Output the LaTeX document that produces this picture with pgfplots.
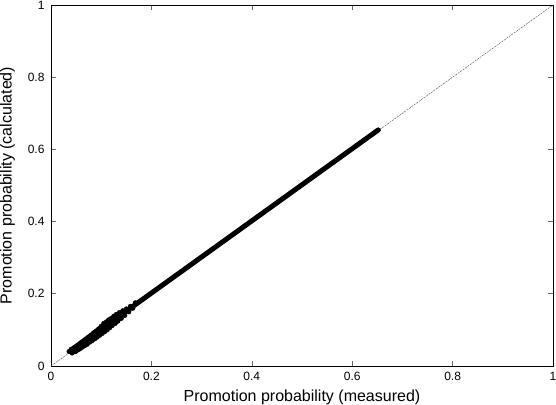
\documentclass[border=0pt]{standalone}
\usepackage{fontspec}
\setmainfont{Liberation Sans}
\usepackage{pgfplots}
\pgfplotsset{compat=1.18}
\begin{document}
\begin{tikzpicture}
\begin{axis}[
    width=502pt, height=361pt, scale only axis,
    xmin=0, xmax=1, ymin=0, ymax=1,
    xtick={0,0.2,0.4,0.6,0.8,1}, ytick={0,0.2,0.4,0.6,0.8,1},
    xticklabels={0,0.2,0.4,0.6,0.8,1}, yticklabels={0,0.2,0.4,0.6,0.8,1},
    tick align=inside, major tick length=5pt,
    tick style={black!60, line width=0.6pt},
    axis line style={black, line width=0.9pt},
    ticklabel style={font=\fontsize{12}{12}\selectfont},
    xticklabel style={yshift=-3pt},
    yticklabel style={xshift=-3pt},
    xlabel={Promotion probability (measured)},
    ylabel={Promotion probability (calculated)},
    label style={font=\fontsize{16}{16}\selectfont},
    xlabel style={yshift=-2pt},
    ylabel style={yshift=6pt},
]
% y = x reference
\addplot[black!70, line width=0.4pt, dash pattern=on 2pt off 1pt] coordinates {(0,0) (1,1)};
% dense band of points
\addplot[black, line width=5pt, line cap=round] coordinates {(0.040,0.042) (0.652,0.654)};
\addplot[black, line width=8.5pt, line cap=round] coordinates {(0.046,0.044) (0.135,0.136)};
% spread at low probabilities
\addplot[only marks, mark=*, mark size=2.3pt, black] coordinates {
(0.036,0.040) (0.040,0.046) (0.042,0.036) (0.045,0.050) (0.048,0.040)
(0.050,0.054) (0.052,0.044) (0.055,0.058) (0.057,0.047) (0.060,0.062)
(0.062,0.052) (0.065,0.068) (0.067,0.056) (0.070,0.073) (0.072,0.060)
(0.075,0.079) (0.077,0.066) (0.080,0.085) (0.082,0.070) (0.085,0.092)
(0.087,0.075) (0.090,0.097) (0.092,0.080) (0.095,0.103) (0.097,0.085)
(0.100,0.110) (0.102,0.090) (0.105,0.118) (0.107,0.095) (0.110,0.122)
(0.112,0.100) (0.115,0.128) (0.117,0.106) (0.120,0.132) (0.122,0.112)
(0.125,0.138) (0.128,0.118) (0.130,0.143) (0.133,0.124) (0.136,0.148)
(0.140,0.132) (0.143,0.153) (0.147,0.140) (0.150,0.158) (0.155,0.150)
(0.158,0.165) (0.163,0.160) (0.168,0.175)
};
\end{axis}
\pgfresetboundingbox
\path ([xshift=-51pt,yshift=-38pt]current axis.south west) rectangle ([xshift=3pt,yshift=5pt]current axis.north east);
\end{tikzpicture}
\end{document}
